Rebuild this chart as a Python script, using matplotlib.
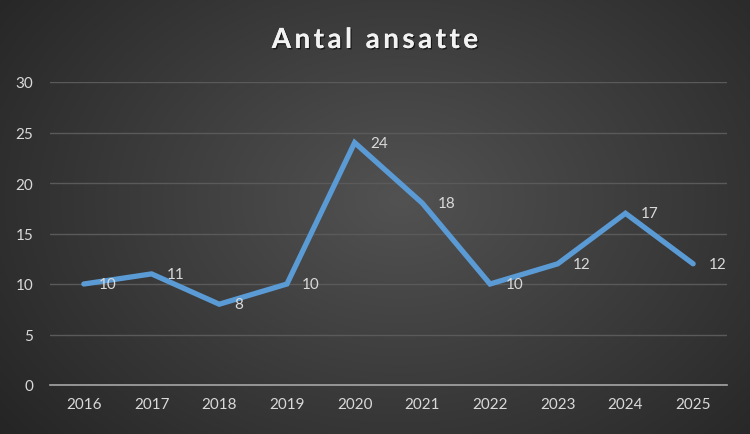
import numpy as np
import matplotlib.pyplot as plt
import matplotlib.patheffects as pe

years = ['2016', '2017', '2018', '2019', '2020', '2021', '2022', '2023', '2024', '2025']
ansatte = [10, 11, 8, 10, 24, 18, 10, 12, 17, 12]
title = 'Antal ansatte'

plt.rcParams['font.family'] = ['Lato', 'DejaVu Sans']

fig = plt.figure(figsize=(7.5, 4.35), dpi=100)

# radial gradient background
bg = fig.add_axes([0, 0, 1, 1])
yy, xx = np.mgrid[0:435, 0:750]
r = np.sqrt(((xx - 400) / 520.0) ** 2 + ((yy - 200) / 380.0) ** 2)
r = np.clip(r, 0, 1)
c0, c1 = 0x52, 0x24
g = (c0 + (c1 - c0) * r) / 255.0
bg.imshow(np.dstack([g, g, g]), aspect='auto', extent=[0, 1, 0, 1])
bg.axis('off')

ax = fig.add_axes([50 / 750, 1 - 386 / 435, 677 / 750, (386 - 83) / 435])
ax.patch.set_alpha(0)
x = np.arange(len(years))
ax.plot(x, ansatte, color='#5B9BD5', lw=3.8, solid_capstyle='round',
        solid_joinstyle='miter', zorder=3)
for xi, v in zip(x, ansatte):
    ax.annotate(str(v), (xi, v), xytext=(11, 0), textcoords='offset points',
                va='center', ha='left', color='#D9D9D9', fontsize=11, zorder=4)

ax.set_xlim(-0.5, len(years) - 0.5)
ax.set_ylim(0, 30)
ax.set_yticks(range(0, 31, 5))
ax.set_xticks(x)
ax.set_xticklabels(years)
ax.yaxis.grid(True, color='#5A5A5A', lw=1)
ax.set_axisbelow(True)
for s in ['top', 'right', 'left']:
    ax.spines[s].set_visible(False)
ax.spines['bottom'].set_color('#A6A6A6')
ax.spines['bottom'].set_linewidth(1.2)
ax.spines['bottom'].set_zorder(2)
ax.tick_params(length=0, colors='#D9D9D9', labelsize=11)
ax.tick_params(axis='x', pad=9)
ax.tick_params(axis='y', pad=12)

spaced = '\u2009'.join(title)
fig.text(0.5, 1 - 41 / 435, spaced,
         ha='center', va='center', color='#F2F2F2', fontsize=20, fontweight='bold',
         path_effects=[pe.withSimplePatchShadow(offset=(1, -1), shadow_rgbFace='black', alpha=0.6),
                       pe.Normal()])

fig.savefig('out.png', dpi=100)
